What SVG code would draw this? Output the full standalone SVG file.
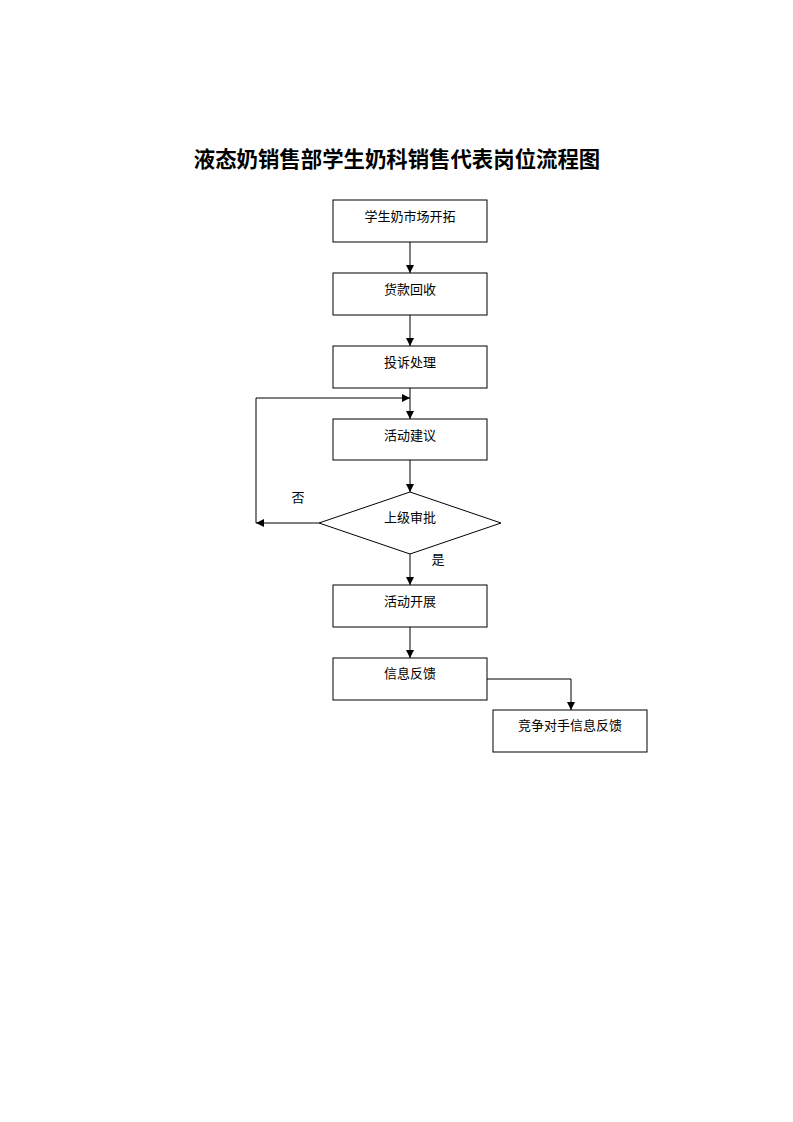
<svg xmlns="http://www.w3.org/2000/svg" width="793" height="1122" viewBox="0 0 793 1122">
<style>
.n{fill:#fff;stroke:#000;stroke-width:1}
.t{font-family:"Liberation Serif","Noto Sans CJK SC",serif;font-size:13px;fill:#000;text-anchor:middle}
.c{fill:none;stroke:#000;stroke-width:1}
.title{font-family:"Noto Sans CJK SC",sans-serif;font-size:21.4px;font-weight:bold;text-anchor:middle}
</style>
<defs><marker id="a" viewBox="0 0 10 10" refX="10" refY="5" markerWidth="8" markerHeight="8" markerUnits="userSpaceOnUse" orient="auto"><path d="M0,0L10,5L0,10z" fill="#000"/></marker></defs>
<rect width="793" height="1122" fill="#fff"/>
<text class="title" x="397" y="167">液态奶销售部学生奶科销售代表岗位流程图</text>
<g id="connectors">
<path class="c" d="M410,242V273" marker-end="url(#a)"/>
<path class="c" d="M410,315V346" marker-end="url(#a)"/>
<path class="c" d="M410,388V419" marker-end="url(#a)"/>
<path class="c" d="M410,460V492" marker-end="url(#a)"/>
<path class="c" d="M410,554V585" marker-end="url(#a)"/>
<path class="c" d="M410,627V658" marker-end="url(#a)"/>
<path class="c" d="M319,523H256" marker-end="url(#a)"/>
<path class="c" d="M256,523V398H410" marker-end="url(#a)"/>
<path class="c" d="M487,679H571V710" marker-end="url(#a)"/>
<text class="t" x="298" y="502">否</text>
<text class="t" x="438" y="564">是</text>
</g>
<g id="n1"><rect class="n" x="333" y="200" width="154" height="42"/><text class="t" x="410" y="221">学生奶市场开拓</text></g>
<g id="n2"><rect class="n" x="333" y="273" width="154" height="42"/><text class="t" x="410" y="294">货款回收</text></g>
<g id="n3"><rect class="n" x="333" y="346" width="154" height="42"/><text class="t" x="410" y="367">投诉处理</text></g>
<g id="n4"><rect class="n" x="333" y="419" width="154" height="41"/><text class="t" x="410" y="440">活动建议</text></g>
<g id="n5"><path class="n" d="M410,492L501,523L410,554L319,523Z"/><text class="t" x="410" y="522">上级审批</text></g>
<g id="n6"><rect class="n" x="333" y="585" width="154" height="42"/><text class="t" x="410" y="606">活动开展</text></g>
<g id="n7"><rect class="n" x="333" y="658" width="154" height="42"/><text class="t" x="410" y="678">信息反馈</text></g>
<g id="n8"><rect class="n" x="493" y="710" width="154" height="42"/><text class="t" x="570" y="730">竞争对手信息反馈</text></g>
</svg>
